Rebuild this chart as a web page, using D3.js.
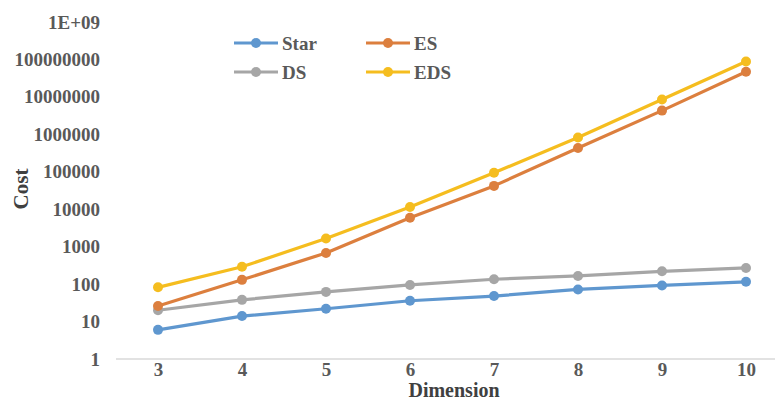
<!DOCTYPE html>
<html>
<head>
<meta charset="utf-8">
<script src="https://cdn.jsdelivr.net/npm/d3@7/dist/d3.min.js"></script>
<style>
  html, body { margin: 0; padding: 0; background: #fff; }
  svg { display: block; }
  text { font-family: "Liberation Serif", "Times New Roman", serif; }
</style>
</head>
<body>
<svg id="chart" width="775" height="403"></svg>
<script>
// Dimension categories on the x axis
const dimensions = [3, 4, 5, 6, 7, 8, 9, 10];

// Cost per dimension for each method
const starCost = [6, 14, 22, 36, 48, 72, 92, 115];
const dsCost   = [20, 38, 62, 95, 135, 165, 220, 270];
const esCost   = [26, 130, 680, 5900, 42000, 430000, 4300000, 47000000];
const edsCost  = [82, 290, 1650, 11500, 94000, 820000, 8500000, 88000000];

// Y tick values and their labels
const yTicks = [1, 10, 100, 1000, 10000, 100000, 1000000, 10000000, 100000000, 1000000000];
const yTickLabels = ["1", "10", "100", "1000", "10000", "100000", "1000000", "10000000", "100000000", "1E+09"];

const seriesNames = ["Star", "ES", "DS", "EDS"];
const seriesColors = ["#5f97cf", "#dc7f3e", "#a6a6a6", "#f5bd1f"];

const series = [
  { name: "Star", values: starCost, color: seriesColors[0] },
  { name: "DS",   values: dsCost,   color: seriesColors[2] },
  { name: "ES",   values: esCost,   color: seriesColors[1] },
  { name: "EDS",  values: edsCost,  color: seriesColors[3] }
];

const svg = d3.select("#chart");

const x = d3.scalePoint()
  .domain(dimensions)
  .range([116, 788])
  .padding(0.5);

const y = d3.scaleLog()
  .domain([1, 1e9])
  .range([359, 22]);

// Category axis line
svg.append("line")
  .attr("x1", 116).attr("x2", 788)
  .attr("y1", y(1)).attr("y2", y(1))
  .attr("stroke", "#d9d9d9").attr("stroke-width", 1.5);

// Y axis tick labels
const yAxis = d3.axisLeft(y)
  .tickValues(yTicks)
  .tickFormat((d, i) => yTickLabels[i])
  .tickSize(0)
  .tickPadding(0);

const gy = svg.append("g")
  .attr("transform", "translate(100,0)")
  .call(yAxis);
gy.select(".domain").remove();
gy.selectAll("text")
  .attr("font-family", "'Liberation Serif', serif")
  .attr("font-size", 19)
  .attr("font-weight", "bold")
  .attr("fill", "#595959");

// X axis tick labels
const xAxis = d3.axisBottom(x).tickSize(0).tickPadding(0);
const gx = svg.append("g")
  .attr("transform", `translate(0,${y(1) + 3})`)
  .call(xAxis);
gx.select(".domain").remove();
gx.selectAll("text")
  .attr("font-family", "'Liberation Serif', serif")
  .attr("font-size", 19)
  .attr("font-weight", "bold")
  .attr("fill", "#595959");

// Axis titles
svg.append("text")
  .attr("x", 454).attr("y", 397)
  .attr("text-anchor", "middle")
  .attr("font-size", 20)
  .attr("font-weight", "bold")
  .attr("fill", "#404040")
  .text("Dimension");

svg.append("text")
  .attr("transform", "translate(28,189) rotate(-90)")
  .attr("text-anchor", "middle")
  .attr("font-size", 21)
  .attr("font-weight", "bold")
  .attr("fill", "#404040")
  .text("Cost");

// Series lines and markers
const line = d3.line()
  .x((d, i) => x(dimensions[i]))
  .y(d => y(d));

series.forEach(s => {
  svg.append("path")
    .datum(s.values)
    .attr("d", line)
    .attr("fill", "none")
    .attr("stroke", s.color)
    .attr("stroke-width", 3.2)
    .attr("stroke-linejoin", "round");
  svg.append("g")
    .selectAll("circle")
    .data(s.values)
    .join("circle")
    .attr("cx", (d, i) => x(dimensions[i]))
    .attr("cy", d => y(d))
    .attr("r", 5)
    .attr("fill", s.color);
});

// Legend (two columns)
const legendItems = [
  { name: seriesNames[0], color: seriesColors[0], lx: 234, ly: 43 },
  { name: seriesNames[1], color: seriesColors[1], lx: 366, ly: 43 },
  { name: seriesNames[2], color: seriesColors[2], lx: 234, ly: 72 },
  { name: seriesNames[3], color: seriesColors[3], lx: 366, ly: 72 }
];
const lg = svg.append("g").selectAll("g")
  .data(legendItems)
  .join("g")
  .attr("transform", d => `translate(${d.lx},${d.ly})`);
lg.append("line")
  .attr("x1", 0).attr("x2", 44)
  .attr("stroke", d => d.color)
  .attr("stroke-width", 3.2);
lg.append("circle")
  .attr("cx", 22).attr("r", 5)
  .attr("fill", d => d.color);
lg.append("text")
  .attr("x", 48).attr("dy", "0.35em")
  .attr("font-size", 19)
  .attr("font-weight", "bold")
  .attr("fill", "#595959")
  .text(d => d.name);
</script>
</body>
</html>
